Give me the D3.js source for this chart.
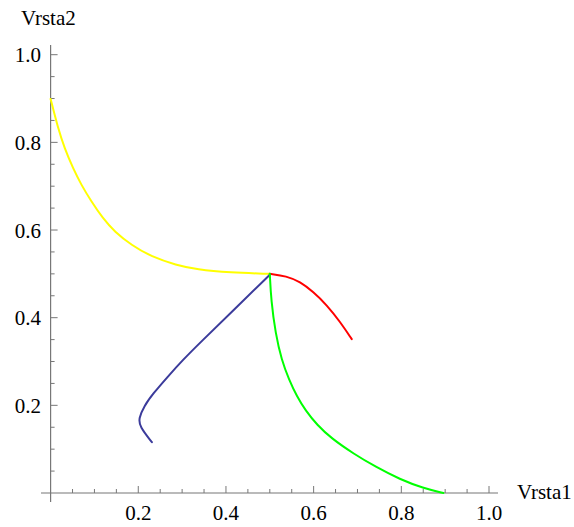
<!DOCTYPE html>
<html>
<head>
<meta charset="utf-8">
<script src="https://cdn.jsdelivr.net/npm/d3@7/dist/d3.min.js"></script>
<style>
  html, body { margin: 0; padding: 0; background: #fff; }
  svg { display: block; }
  svg text { font-family: "Liberation Serif", "DejaVu Serif", serif; }
</style>
</head>
<body>
<svg id="chart" width="574" height="527"></svg>
<script>
// Trajectories in the (Vrsta1, Vrsta2) plane, as [x, y] pairs
const yellowPath = [
  [0.000, 0.899], [0.017, 0.832], [0.032, 0.786], [0.051, 0.741], [0.070, 0.703],
  [0.093, 0.665], [0.119, 0.627], [0.146, 0.596], [0.184, 0.566], [0.230, 0.539],
  [0.287, 0.520], [0.333, 0.510], [0.409, 0.503], [0.500, 0.500]
];
const redPath = [
  [0.500, 0.500], [0.538, 0.495], [0.569, 0.482], [0.599, 0.459], [0.630, 0.429],
  [0.660, 0.391], [0.687, 0.351]
];
const bluePath = [
  [0.500, 0.498], [0.420, 0.420], [0.340, 0.342], [0.303, 0.305], [0.265, 0.263],
  [0.234, 0.227], [0.213, 0.198], [0.201, 0.170], [0.203, 0.152], [0.231, 0.116]
];
const greenPath = [
  [0.500, 0.500], [0.503, 0.440], [0.513, 0.364], [0.527, 0.303], [0.544, 0.258],
  [0.562, 0.220], [0.581, 0.189], [0.608, 0.155], [0.640, 0.125], [0.692, 0.089],
  [0.741, 0.060], [0.797, 0.031], [0.850, 0.011], [0.896, 0.000]
];
const seriesColors = ["#ffff00", "#ff0000", "#3b3b9b", "#00ff00"];
const majorTicks = [0.2, 0.4, 0.6, 0.8, 1.0];
const minorTicks = d3.range(1, 21).map(i => i * 0.05);
const xLabel = "Vrsta1";
const yLabel = "Vrsta2";

const svg = d3.select("#chart");
const x = d3.scaleLinear().domain([0, 1]).range([50.6, 489]);
const y = d3.scaleLinear().domain([0, 1]).range([493, 54.7]);

const axisColor = "#777";
const g = svg.append("g");

const isMajor = d => majorTicks.some(m => Math.abs(m - d) < 1e-9);

// axis lines
g.append("line").attr("x1", 41).attr("x2", 498).attr("y1", y(0)).attr("y2", y(0))
  .attr("stroke", axisColor).attr("stroke-width", 1.2);
g.append("line").attr("x1", x(0)).attr("x2", x(0)).attr("y1", 45).attr("y2", 502)
  .attr("stroke", axisColor).attr("stroke-width", 1.2);

// x ticks (pointing into the plot)
g.selectAll(".xtick").data(minorTicks).join("line")
  .attr("x1", d => x(d)).attr("x2", d => x(d))
  .attr("y1", y(0)).attr("y2", d => y(0) - (isMajor(d) ? 7 : 4))
  .attr("stroke", axisColor).attr("stroke-width", 1);
// y ticks
g.selectAll(".ytick").data(minorTicks).join("line")
  .attr("y1", d => y(d)).attr("y2", d => y(d))
  .attr("x1", x(0)).attr("x2", d => x(0) + (isMajor(d) ? 7 : 4))
  .attr("stroke", axisColor).attr("stroke-width", 1);

// tick labels
g.selectAll(".xlab").data(majorTicks).join("text")
  .attr("x", d => x(d)).attr("y", 520)
  .attr("text-anchor", "middle").attr("font-size", 21)
  .text(d => d.toFixed(1));
g.selectAll(".ylab").data(majorTicks).join("text")
  .attr("x", 41).attr("y", d => y(d) + 7.5)
  .attr("text-anchor", "end").attr("font-size", 21)
  .text(d => d.toFixed(1));

// axis labels
g.append("text").attr("x", 517).attr("y", 499).attr("font-size", 21).text(xLabel);
g.append("text").attr("x", 21).attr("y", 25).attr("font-size", 21).text(yLabel);

// curves
const line = d3.line().x(d => x(d[0])).y(d => y(d[1])).curve(d3.curveBasis);
[yellowPath, redPath, bluePath, greenPath].forEach((p, i) => {
  svg.append("path").datum(p)
    .attr("d", line)
    .attr("fill", "none")
    .attr("stroke", seriesColors[i])
    .attr("stroke-width", 2)
    .attr("stroke-linejoin", "round")
    .attr("stroke-linecap", "round");
});
</script>
</body>
</html>
